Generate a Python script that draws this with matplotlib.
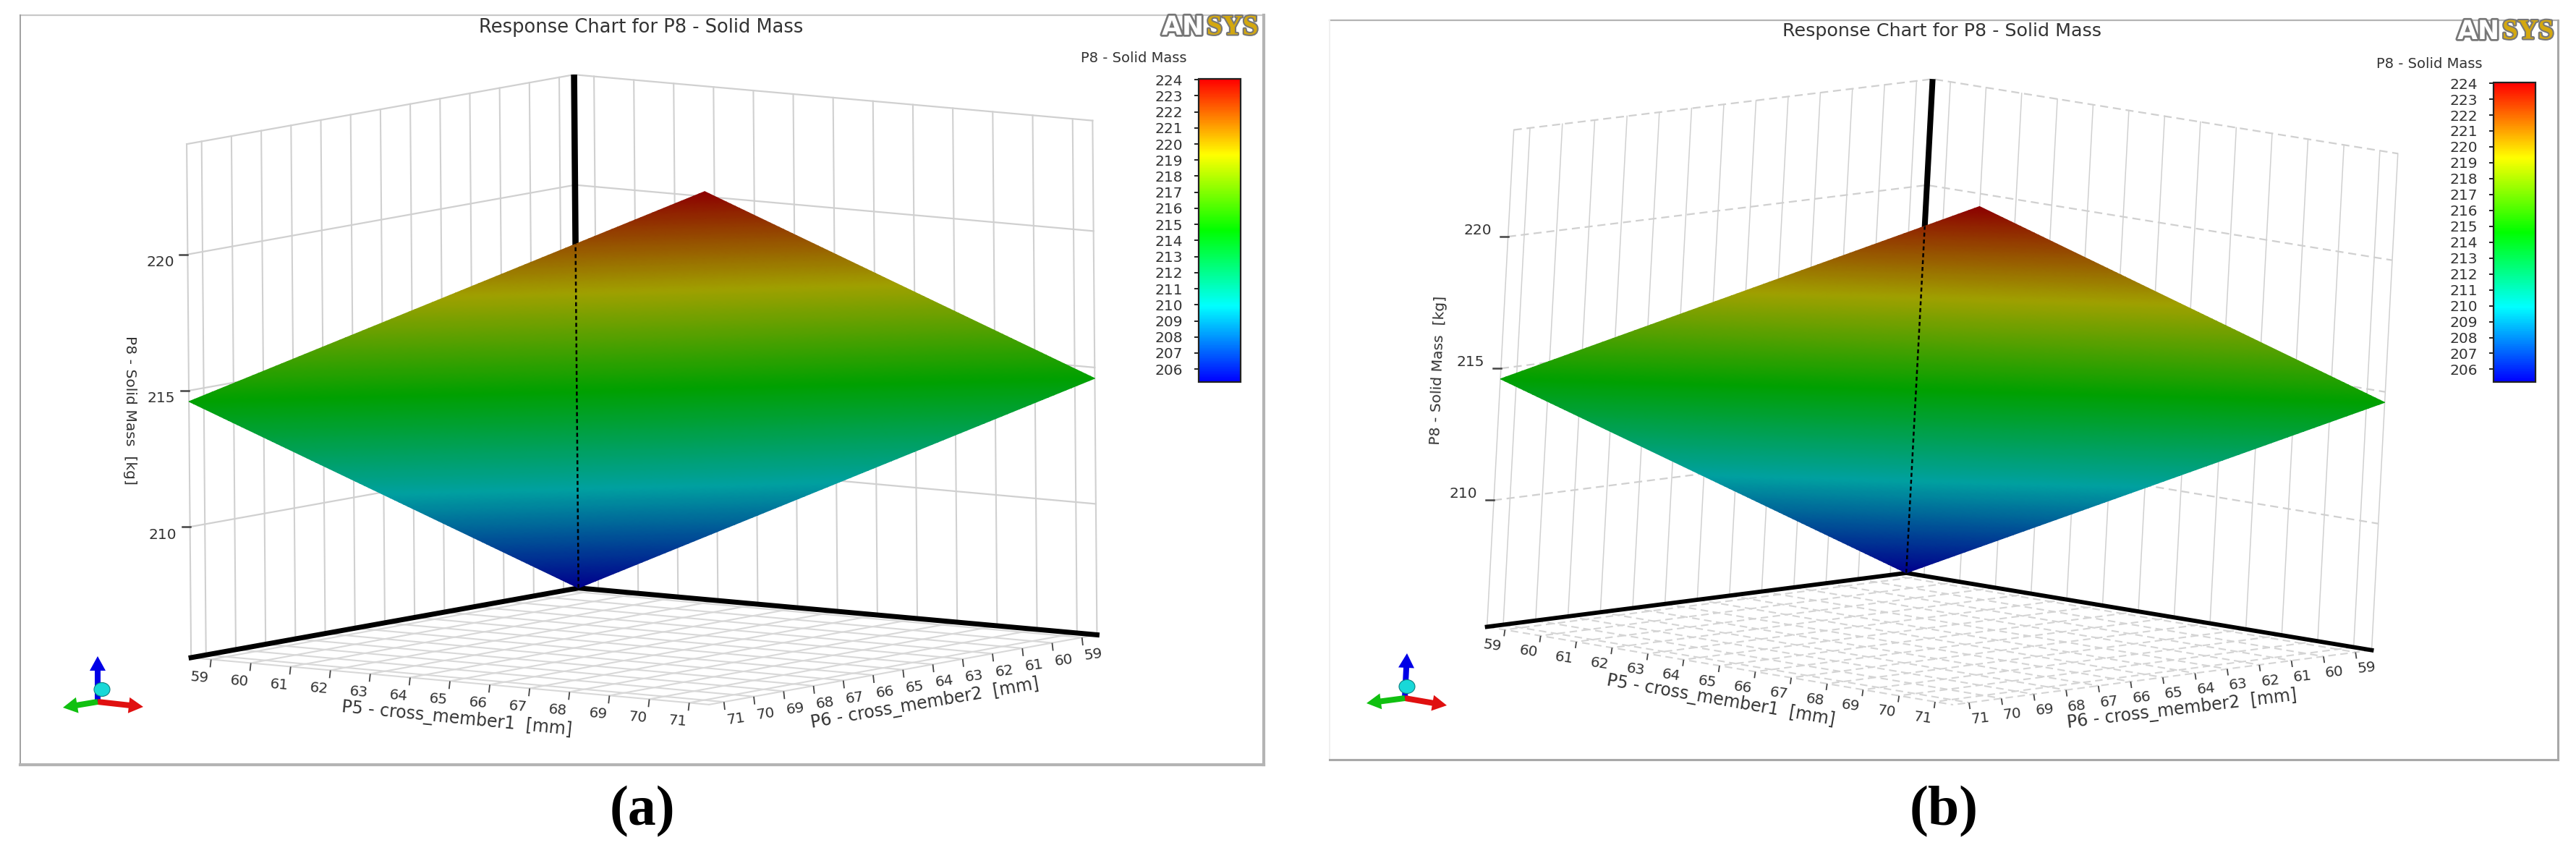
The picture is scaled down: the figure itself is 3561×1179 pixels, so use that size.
import numpy as np
import matplotlib
matplotlib.use("Agg")
import matplotlib.pyplot as plt
import matplotlib.patheffects as pe
from matplotlib.cm import ScalarMappable
from matplotlib.colors import LinearSegmentedColormap, Normalize
from matplotlib.patches import Ellipse, Polygon, FancyArrow

# ---------- data ----------
P5_TICKS = [59, 60, 61, 62, 63, 64, 65, 66, 67, 68, 69, 70, 71]
P6_TICKS = [59, 60, 61, 62, 63, 64, 65, 66, 67, 68, 69, 70, 71]
MASS_TICKS = [210, 215, 220]
CBAR_TICKS = [206, 207, 208, 209, 210, 211, 212, 213, 214, 215, 216, 217, 218, 219, 220, 221, 222, 223, 224]
P5_RANGE = [58.5, 71.5]
P6_RANGE = [58.5, 71.5]
MASS_RANGE = [205.2, 224.05]
# surface mass at the corners of the (P5, P6) range: rows P5 min/max, columns P6 min/max
SURFACE_MASS = [[205.2, 214.6], [214.6, 224.0]]

TITLE = "Response Chart for P8 - Solid Mass"
BAR_TITLE = "P8 - Solid Mass"
P5_LABEL = "P5 - cross_member1  [mm]"
P6_LABEL = "P6 - cross_member2  [mm]"
MASS_LABEL = "P8 - Solid Mass  [kg]"

# ---------- figure ----------
W, H = 3562, 1179
plt.rcParams["font.family"] = ["DejaVu Sans"]
fig = plt.figure(figsize=(W / 100, H / 100), dpi=100)
ax = fig.add_axes([0, 0, 1, 1])
ax.set_xlim(0, W)
ax.set_ylim(H, 0)
ax.axis("off")

BAR_CMAP = LinearSegmentedColormap.from_list("rainbow5", ["#0000ff", "#00ffff", "#00ff00", "#ffff00", "#ff0000"])
SURF_CMAP = LinearSegmentedColormap.from_list("rainbow5d", ["#00008c", "#00a0a0", "#00a000", "#a0a000", "#8c0000"])
NORM = Normalize(*MASS_RANGE)
TXT = "#333333"
GRID = "#d0d0d0"


def camera(pix):
    """Fit a projective camera mapping (P5, P6, mass) to the screen from the box corners."""
    c = np.array([65.0, 65.0, 214.6])
    s = np.array([6.5, 6.5, 9.4])
    A = []
    for (i, j, k), (u, v) in pix.items():
        X = (np.array([P5_RANGE[i], P6_RANGE[j], MASS_RANGE[k]]) - c) / s
        X = np.r_[X, 1.0]
        uu, vv = (u - 1800) / 1000, (v - 500) / 1000
        A.append(np.r_[X, np.zeros(4), -uu * X])
        A.append(np.r_[np.zeros(4), X, -vv * X])
    _, _, Vt = np.linalg.svd(np.array(A))
    M = Vt[-1].reshape(3, 4)

    def project(p5, p6, m):
        p5, p6, m = np.broadcast_arrays(np.asarray(p5, float), np.asarray(p6, float), np.asarray(m, float))
        Q = np.stack([(p5 - c[0]) / s[0], (p6 - c[1]) / s[1], (m - c[2]) / s[2], np.ones_like(p5, dtype=float)])
        r = np.tensordot(M, Q, axes=(1, 0))
        return r[0] / r[2] * 1000 + 1800, r[1] / r[2] * 1000 + 500

    return project


def arrow(x0, y0, x1, y1, color, w=8, hw=22, hl=20):
    ax.add_patch(FancyArrow(x0, y0, x1 - x0, y1 - y0, width=w, head_width=hw, head_length=hl,
                            length_includes_head=True, color=color, lw=0, zorder=8))


def draw_panel(cfg):
    pr = camera(cfg["corners"])
    a5, b5 = P5_RANGE
    a6, b6 = P6_RANGE
    m0, m1 = MASS_RANGE
    ls = cfg["hgrid_ls"]

    # frame
    l, t, r, b = cfg["frame"]
    ax.plot([l, r], [t, t], color=cfg["frame_top"], lw=1.6, zorder=1)
    ax.plot([l, l], [t, b], color=cfg["frame_left"], lw=1.4, zorder=1)
    ax.plot([r, r], [t, b], color=cfg["frame_right"], lw=cfg["frame_w"], zorder=1)
    ax.plot([l, r], [b, b], color=cfg["frame_right"], lw=cfg["frame_w"], zorder=1)

    # walls: verticals
    for v in P6_TICKS + [b6]:
        ax.plot(*pr(a5, v, [m0, m1]), color=GRID, lw=cfg["vgrid_lw"], zorder=2)
    for v in P5_TICKS + [b5]:
        ax.plot(*pr(v, a6, [m0, m1]), color=GRID, lw=cfg["vgrid_lw"], zorder=2)
    # walls: horizontals
    for m in MASS_TICKS + [m1]:
        x1, y1 = pr([a5, a5], [b6, a6], m)
        x2, y2 = pr([a5, b5], [a6, a6], m)
        ax.plot(np.r_[x1, x2], np.r_[y1, y2], color=GRID, lw=1.6, ls=ls, zorder=2)
    # floor
    floor_c = cfg["floor_c"]
    for v in P5_TICKS + [b5]:
        ax.plot(*pr(v, [a6, b6], m0), color=floor_c, lw=1.5, ls=ls, zorder=2)
    for v in P6_TICKS + [b6]:
        ax.plot(*pr([a5, b5], v, m0), color=floor_c, lw=1.5, ls=ls, zorder=2)

    # heavy axes
    ax.plot(*pr([b5, a5, a5], [a6, a6, b6], m0), color="black", lw=cfg["axis_lw"], zorder=3, solid_joinstyle="miter")
    ax.plot(*pr(a5, a6, [m0, m1]), color="black", lw=cfg["zaxis_lw"], zorder=3, solid_capstyle="butt")

    # response surface
    s = np.linspace(0, 1, 90)
    U, V = np.meshgrid(s, s, indexing="ij")
    sm = np.array(SURFACE_MASS)
    Zv = (sm[0, 0] * (1 - U) * (1 - V) + sm[0, 1] * (1 - U) * V + sm[1, 0] * U * (1 - V) + sm[1, 1] * U * V)
    X, Y = pr(a5 + (b5 - a5) * U, a6 + (b6 - a6) * V, Zv)
    ax.pcolormesh(X, Y, Zv, cmap=SURF_CMAP, norm=NORM, shading="gouraud", zorder=4, rasterized=True)

    # dashed axis inside the surface
    cx, cy = pr([a5, b5, b5, a5], [a6, a6, b6, b6], [sm[0, 0], sm[1, 0], sm[1, 1], sm[0, 1]])
    clip = Polygon(np.c_[cx, cy], closed=True, transform=ax.transData, fill=False, lw=0)
    ax.add_patch(clip)
    dash, = ax.plot(*pr(a5, a6, [m0, m1]), color="black", lw=1.8, ls=(0, (2.2, 1.6)), zorder=5)
    dash.set_clip_path(clip)

    # ticks and their labels
    tl = cfg["tick_len"]
    ox, oy = cfg["p5_off"]
    for v in P5_TICKS:
        x, y = pr(v, b6, m0)
        ax.plot([x, x - 1], [y + 1, y + tl], color="#444444", lw=1.3, zorder=6)
        ax.text(x + ox, y + oy, str(v), ha="center", va="center", fontsize=cfg["fs"], color=TXT,
                rotation=cfg["p5_rot"], rotation_mode="anchor")
    ox, oy = cfg["p6_off"]
    for v in P6_TICKS:
        x, y = pr(b5, v, m0)
        ax.plot([x, x + 1], [y + 1, y + tl], color="#444444", lw=1.3, zorder=6)
        ax.text(x + ox, y + oy, str(v), ha="center", va="center", fontsize=cfg["fs"], color=TXT,
                rotation=cfg["p6_rot"], rotation_mode="anchor")
    ox, oy = cfg["m_off"]
    for v in MASS_TICKS:
        x, y = pr(a5, b6, v)
        ax.plot([x - 11, x], [y, y], color="#444444", lw=1.8, zorder=6)
        ax.text(x + ox, y + oy, str(v), ha="center", va="center", fontsize=cfg["fs"], color=TXT)

    # axis titles
    ax.text(*cfg["title_xy"], TITLE, ha="center", va="center", fontsize=cfg["title_fs"], color=TXT)
    x, y, rot = cfg["p5_title"]
    ax.text(x, y, P5_LABEL, ha="center", va="center", rotation=rot, fontsize=cfg["lab_fs"], color=TXT, rotation_mode="anchor")
    x, y, rot = cfg["p6_title"]
    ax.text(x, y, P6_LABEL, ha="center", va="center", rotation=rot, fontsize=cfg["lab_fs"], color=TXT, rotation_mode="anchor")
    x, y, rot = cfg["m_title"]
    ax.text(x, y, MASS_LABEL, ha="center", va="center", rotation=rot, fontsize=cfg["mlab_fs"], color=TXT, rotation_mode="anchor")

    # logo
    x0, xm, y0 = cfg["logo"]
    ax.text(x0, y0, "AN", ha="left", va="center", fontsize=26, fontweight="bold", color="white",
            path_effects=[pe.withStroke(linewidth=4, foreground="#777777")], zorder=8)
    ax.text(xm, y0, "SYS", ha="left", va="center", fontsize=28, fontweight="bold", family="Liberation Serif",
            color="#d4a80f", path_effects=[pe.withStroke(linewidth=3, foreground="#777777")], zorder=8)

    # colour bar
    bl, bt, br, bb = cfg["bar"]
    cax = fig.add_axes([bl / W, 1 - bb / H, (br - bl) / W, (bb - bt) / H])
    cb = fig.colorbar(ScalarMappable(norm=NORM, cmap=BAR_CMAP), cax=cax, ticks=CBAR_TICKS)
    cax.yaxis.set_ticks_position("left")
    cax.tick_params(length=4.5, width=1.4, pad=cfg["bar_pad"], labelsize=cfg["fs"], labelcolor=TXT, color="#222222")
    cb.outline.set_edgecolor("#222222")
    cb.outline.set_linewidth(1.6)
    cb.minorticks_off()
    ax.text(*cfg["bar_title"], BAR_TITLE, ha="center", va="center", fontsize=14, color=TXT)

    # orientation triad
    tr = cfg["triad"]
    ox, oy = tr["o"]
    arrow(ox, oy, *tr["z"], "#0000e6")
    arrow(ox, oy, *tr["x"], "#e01010")
    arrow(ox, oy, *tr["y"], "#10c010")
    ax.add_patch(Ellipse(tr["c"], 22, 19, fc="#18d8d8", ec="#108080", lw=0.8, zorder=9))

    ax.text(*cfg["cap_xy"], cfg["cap"], ha="center", va="center", fontsize=56, fontweight="bold",
            family="Liberation Serif", color="black")


panels = [
    dict(
        corners={(0, 0, 0): (801, 814), (0, 0, 1): (792, 103), (0, 1, 0): (263.5, 908), (0, 1, 1): (259, 199),
                 (1, 0, 0): (1516, 876), (1, 0, 1): (1511, 167), (1, 1, 0): (980, 975)},
        frame=(28, 21, 1747, 1057), frame_top="#c8c8c8", frame_left="#a0a0a0", frame_right="#b4b4b4", frame_w=3,
        hgrid_ls="-", vgrid_lw=1.5, floor_c="#d8d8d8", axis_lw=5.0, zaxis_lw=6.2, tick_len=10,
        p5_off=(-16, 25), p6_off=(16, 24), m_off=(-38, 11), p5_rot=-5, p6_rot=8, fs=14.5,
        title_xy=(886, 38), title_fs=18.5, lab_fs=17, mlab_fs=14.6,
        p5_title=(631, 993, -5.7), p6_title=(1278, 972, 9.8), m_title=(180, 567, -90),
        logo=(1606, 1668, 38), bar=(1657, 109, 1715, 528), bar_pad=11.5, bar_title=(1567, 81),
        triad=dict(o=(135, 970), z=(135, 907), x=(198, 977), y=(87, 978), c=(141, 953)),
        cap="(a)", cap_xy=(888, 1122),
    ),
    dict(
        corners={(0, 0, 0): (2635, 793), (0, 0, 1): (2671, 109), (0, 1, 0): (2056, 866), (0, 1, 1): (2093, 179),
                 (1, 0, 0): (3279, 897), (1, 0, 1): (3315, 213), (1, 1, 0): (2699, 975)},
        frame=(1838, 28, 3536, 1050), frame_top="#b4b4b4", frame_left="#f0f0f0", frame_right="#a8a8a8", frame_w=2.2,
        hgrid_ls=(0, (5, 3)), vgrid_lw=1.1, floor_c="#d4d4d4", axis_lw=4.2, zaxis_lw=5.8, tick_len=8,
        p5_off=(-17, 22), p6_off=(15, 22), m_off=(-42, -9), p5_rot=-8, p6_rot=6, fs=14.5,
        title_xy=(2685, 43), title_fs=18.3, lab_fs=17, mlab_fs=14.6,
        p5_title=(2379, 968, -9.9), p6_title=(3016, 980, 6.9), m_title=(1988, 512, 88),
        logo=(3397, 3459, 44), bar=(3447, 114, 3505, 528), bar_pad=11.5, bar_title=(3358, 88),
        triad=dict(o=(1942, 965), z=(1945, 903), x=(2000, 975), y=(1889, 972), c=(1945, 949)),
        cap="(b)", cap_xy=(2687, 1122),
    ),
]

for cfg in panels:
    draw_panel(cfg)

fig.savefig("out.png", dpi=100, facecolor="white")
